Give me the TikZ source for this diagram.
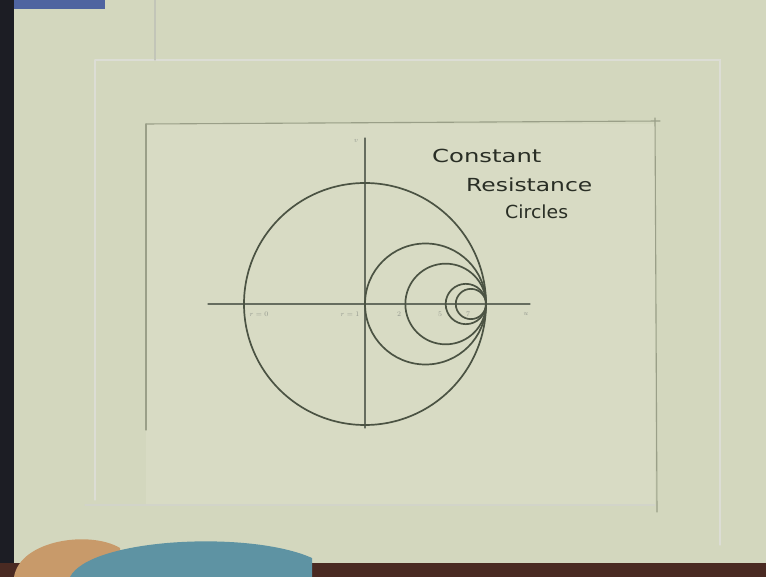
\documentclass[tikz,border=0pt]{standalone}
\usepackage{fontspec}
\setmainfont{DejaVu Sans}
\usetikzlibrary{calc, positioning}
\definecolor{paper}{HTML}{D3D7BE}
\definecolor{sheet}{HTML}{D8DBC4}
\definecolor{pencil}{HTML}{4B5343}
\definecolor{rule}{HTML}{9A9F88}
\definecolor{board}{HTML}{1C1D24}
\definecolor{tray}{HTML}{4A2A22}
\definecolor{cloth}{HTML}{5E93A3}
\definecolor{skin}{HTML}{C89A6A}
\definecolor{tape}{HTML}{4F64A0}
\tikzset{
  every picture/.style={line cap=round},
  rcircle/.style={draw=pencil, line width=1.7pt},
  axis/.style={draw=pencil!85, line width=1.1pt},
  frame/.style={draw=rule, line width=1.1pt},
  tick/.style={font=\fontsize{7}{8}\selectfont, text=pencil!60, inner sep=1pt},
  hand/.style={font=\fontsize{18}{20}\selectfont, text=pencil!55!black, anchor=west, inner sep=0pt},
}

\begin{document}
\begin{tikzpicture}[x=1pt, y=-1pt]
  \useasboundingbox (0,0) rectangle (766,577);
  \fill[paper] (0,0) rectangle (766,577);
  \fill[sheet] (146,124) rectangle (655,505);
  \fill[board] (0,0) rectangle (14,577);
  \fill[tape] (14,0) rectangle (105,9);
  \fill[tray] (0,563) rectangle (766,577);
  \fill[skin] (14,577) .. controls (20,540) and (90,530) .. (120,548) -- (120,577) -- cycle;
  \fill[cloth] (70,577) .. controls (90,538) and (250,530) .. (312,558) -- (312,577) -- cycle;
  \draw[frame] (146,124) -- (660,121);
  \draw[frame] (146,124) -- (146,430);
  \draw[frame] (655,118) -- (657,512);
  \draw[frame, rule!45] (85,505) -- (655,505);
  \draw[frame, rule!35] (95,60) -- (720,60) -- (720,545);
  \draw[frame, rule!35] (95,60) -- (95,500);
  \draw[frame, rule!60] (155,0) -- (155,60);
  \coordinate (O) at (365,304);
  \coordinate (xl) at (208,304);
  \coordinate (xr) at (530,304);
  \coordinate (yt) at (365,138);
  \coordinate (yb) at (365,428);
  \draw[axis] (xl) -- (xr);
  \draw[axis] (yt) -- (yb);
  \foreach \r in {0,1,2,5,7}
    \draw[rcircle] ($(O)+({121*\r/(1+\r)},0)$) circle [radius={121pt/(1+\r)}];
  \foreach \x/\t [count=\i] in {259/r=0, 350/r=1, 399/2, 440/5, 468/7}
    \node[tick] (lab\i) at (\x,314) {$\t$};
  \node[tick] (uax) at (526,314) {$u$};
  \node[tick] (vax) at (356,141) {$v$};
  \node[hand] (ttl1) at (432,156) {\scalebox{1.35}[1]{Constant}};
  \node[hand] (ttl2) at (466,185) {\scalebox{1.3}[1]{Resistance}};
  \node[hand] (ttl3) at (505,212) {\scalebox{1.05}[1]{Circles}};
\end{tikzpicture}
\end{document}
